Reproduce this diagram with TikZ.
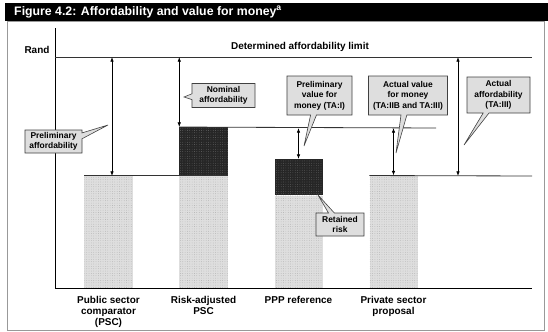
\documentclass[tikz,border=0pt]{standalone}
\usepackage{fontspec}
\setmainfont{Liberation Sans}
\usetikzlibrary{arrows.meta,shapes.callouts,patterns.meta,positioning}

\tikzset{
  lightbar/.style={rectangle,inner sep=0pt,minimum width=1.44cm,anchor=south,preaction={fill=black!13},pattern={Dots[distance=2pt,radius=.3pt]},pattern color=black!35},
  darkbar/.style={rectangle,inner sep=0pt,minimum width=1.44cm,preaction={fill=black!85},pattern={Dots[distance=2pt,radius=.3pt]},pattern color=black!55},
  note/.style={rectangle callout,draw=black!75,line width=.5pt,fill=black!13,align=center,inner sep=1pt,font=\fontsize{7.2}{9}\selectfont\bfseries,callout pointer width=5pt},
  level/.style={draw=black!80,line width=.7pt},
  span/.style={{Latex[length=4pt,width=3pt]}-{Latex[length=4pt,width=3pt]},line width=.6pt},
  cat/.style={align=center,inner sep=1pt,font=\fontsize{8.5}{9.4}\selectfont\bfseries}
}

\begin{document}
\begin{tikzpicture}[x=.03cm,y=-.03cm]
\useasboundingbox (0,0) rectangle (548,332);
% frame and title bar
\draw[black!40,line width=.6pt] (7,21) rectangle (544,330);
\fill[black] (5,3) rectangle (548,21);
\node[anchor=west,text=white,inner sep=0pt,font=\fontsize{10.5}{12}\selectfont\bfseries] (title) at (14,12) {Figure 4.2: Affordability and value for money\textsuperscript{a}};

% bars
\node[lightbar,minimum height=3.36cm] (psc) at (108.5,288) {};
\node[lightbar,minimum height=3.36cm] (ra) at (203.5,288) {};
\node[darkbar,minimum height=1.44cm,above=0pt of ra] (rarisk) {};
\node[lightbar,minimum height=2.76cm] (ppp) at (298.5,288) {};
\node[darkbar,minimum height=1.08cm,above=0pt of ppp] (ppprisk) {};
\node[lightbar,minimum height=3.36cm] (psp) at (393.5,288) {};

% axes
\coordinate (orig) at (55,288);
\coordinate (ytop) at (55,28);
\coordinate (xend) at (532,288);
\draw[line width=.8pt] (ytop) -- (orig) -- (xend);
\node[cat] (rand) at (37,50) {Rand};

% levels
\coordinate (lim) at (55,57);
\coordinate (limEnd) at (532,57);
\coordinate (topEnd) at (436,128);
\coordinate (baseEnd) at (532,176);
\draw[level] (lim) -- (limEnd);
\draw[level] (psc.north west) -- (rarisk.south east);
\draw[level] (rarisk.north west) -- (topEnd);
\draw[level] (psp.north west) -- (baseEnd);
\node[cat] (limtext) at (300,47) {Determined affordability limit};

% spans
\coordinate (pa) at (112,176);
\coordinate (aa) at (458,176);
\draw[span] (pa |- lim) -- (pa);
\draw[span] (rarisk.north west |- lim) -- (rarisk.north west);
\draw[span] (ppprisk.north |- topEnd) -- (ppprisk.north);
\draw[span] (psp.north |- topEnd) -- (psp.north);
\draw[span] (aa |- lim) -- (aa);

% callouts
\node[note,minimum width=1.71cm,minimum height=.69cm,callout absolute pointer={(108,125)}] (prelaff) at (53.5,141.5) {Preliminary\\affordability};
\node[note,minimum width=1.89cm,minimum height=.72cm,callout absolute pointer={(184,97)}] (nomaff) at (223.5,95.5) {Nominal\\affordability};
\node[note,minimum width=1.95cm,minimum height=1.17cm,callout absolute pointer={(304,146)}] (prelvfm) at (319.5,95.5) {Preliminary\\value for\\money (TA:I)};
\node[note,minimum width=2.37cm,minimum height=1.17cm,callout absolute pointer={(396,153)}] (actvfm) at (408,95.5) {Actual value\\for money\\(TA:IIB and TA:III)};
\node[note,minimum width=1.89cm,minimum height=1.08cm,callout absolute pointer={(464,145)}] (actaff) at (498.5,95) {Actual\\affordability\\(TA:III)};
\node[note,minimum width=1.44cm,minimum height=.69cm,callout absolute pointer={(318,195)}] (retrisk) at (340,224.5) {Retained\\risk};

% categories
\node[cat,below=6pt of psc] (psclab) {Public sector\\comparator\\(PSC)};
\node[cat,below=6pt of ra] (ralab) {Risk-adjusted\\PSC};
\node[cat,below=6pt of ppp] (ppplab) {PPP reference};
\node[cat,below=6pt of psp] (psplab) {Private sector\\proposal};
\end{tikzpicture}
\end{document}
